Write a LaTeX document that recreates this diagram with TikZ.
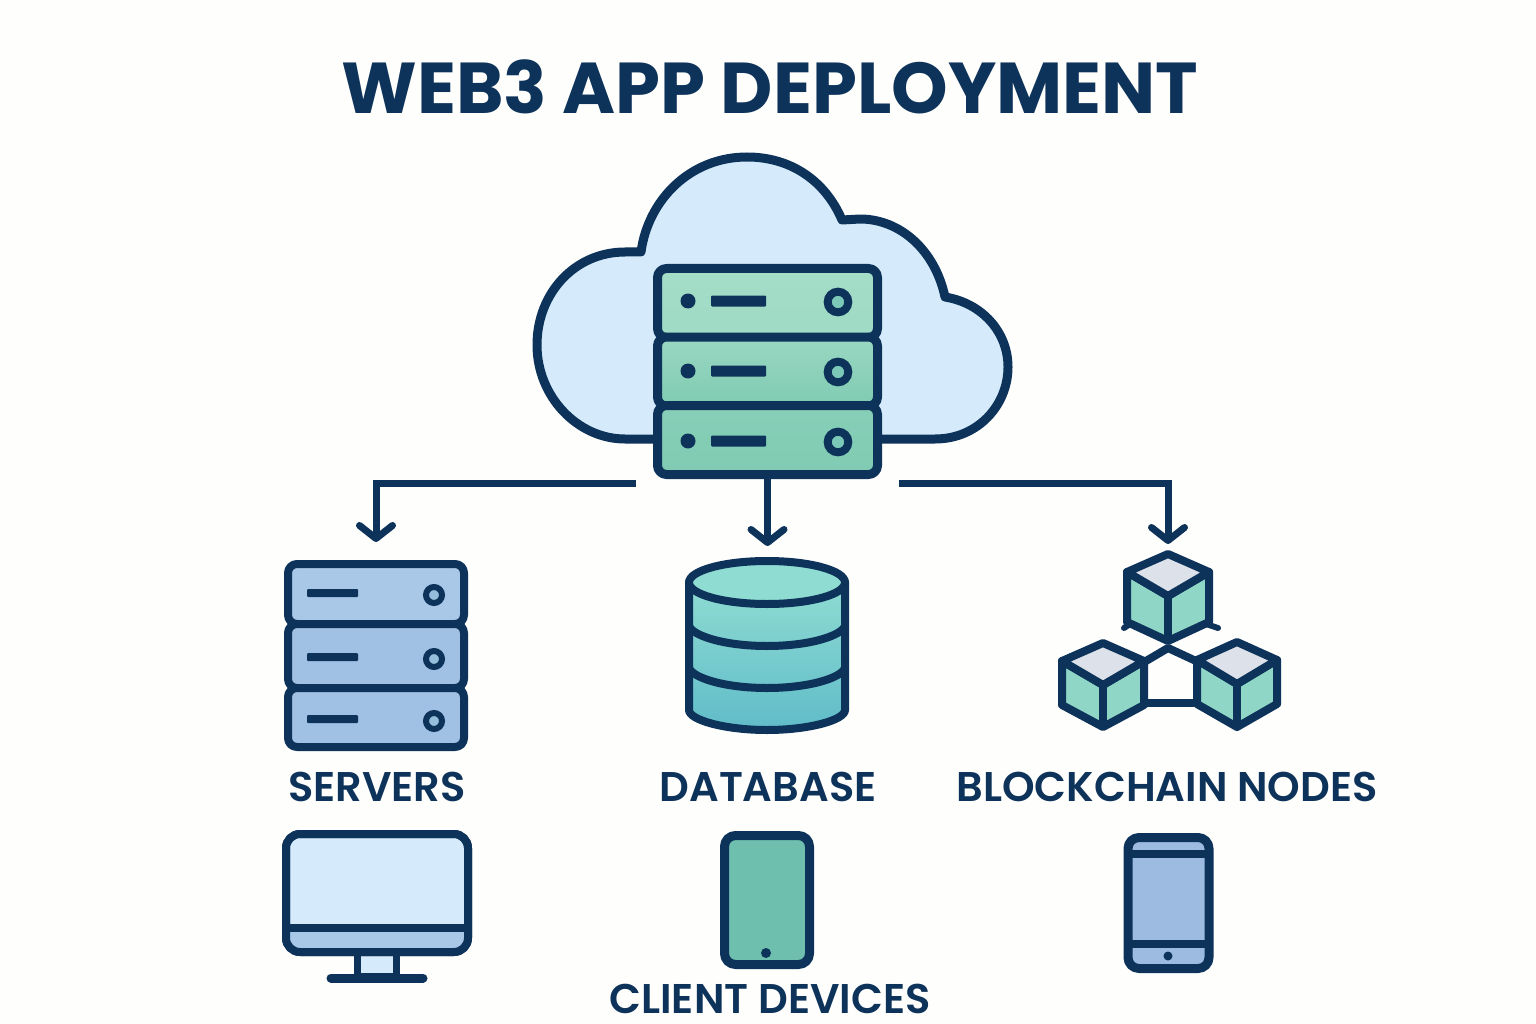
\documentclass[tikz,border=0pt]{standalone}
\usepackage{fontspec}
\setmainfont{Poppins}
\newfontfamily\labelfont{Poppins SemiBold}
\usetikzlibrary{arrows.meta}
\definecolor{inkblue}{HTML}{0E335A}
\definecolor{cloudfill}{HTML}{D5EBFB}
\definecolor{paper}{HTML}{FEFEFD}
\definecolor{hublight}{HTML}{A4DDC8}
\definecolor{hubdark}{HTML}{80CBB3}
\definecolor{ringfill}{HTML}{7CC8B8}
\definecolor{steelone}{HTML}{A9C8E8}
\definecolor{steeltwo}{HTML}{A0C0E4}
\definecolor{steelthree}{HTML}{9DBBE0}
\definecolor{ringblue}{HTML}{94BEDC}
\definecolor{dbtop}{HTML}{8FDCD2}
\definecolor{dbbottom}{HTML}{60BCC9}
\definecolor{tealpad}{HTML}{6FBFAE}
\definecolor{cubetop}{HTML}{DDE1E9}
\definecolor{cubeside}{HTML}{8FD6C6}
\tikzset{
  outline/.style = {draw = inkblue, line width = 8pt, line join = round},
  srvrow/.style = {outline, line width = 9pt, rounded corners = 9pt, minimum width = 220pt, minimum height = 69pt, inner sep = 0pt},
  smallrow/.style = {outline, rounded corners = 9pt, minimum width = 176pt, inner sep = 0pt},
  link/.style = {draw = inkblue, line width = 7pt, -{Straight Barb[length = 13pt, width = 33pt, round]}},
  caption/.style = {text = inkblue, font = \fontsize{41.5}{44}\selectfont\labelfont, inner sep = 0pt},
  padbox/.style = {outline, line width = 9pt, rounded corners = 11pt, inner sep = 0pt}
}
\newcommand{\blockcube}[5]{
\begin{scope}[shift = {(#1,#2)}]
\draw[outline, fill = cubeside] (-#3,-24) -- (0,0) -- (#3,-24) -- (#3,#5) -- (0,#4) -- (-#3,#5) -- cycle;
\draw[outline, fill = cubetop] (0,-42) -- (#3,-24) -- (0,0) -- (-#3,-24) -- cycle;
\draw[outline] (0,0) -- (0,#4);
\end{scope}
}
\begin{document}
\begin{tikzpicture}[x = 1pt, y = -1pt]
\fill[paper] (0,0) rectangle (1536,1024);
\node[text = inkblue, font = \fontsize{72}{80}\selectfont\bfseries, inner sep = 0pt] (title) at (770,87) {WEB3 APP DEPLOYMENT};
\draw[outline, line width = 9pt, fill = cloudfill] (882,439) -- (935,439) .. controls (978,439) and (1008,405) .. (1008,367) .. controls (1008,332) and (982,303) .. (945,297) .. controls (935,250) and (900,219) .. (860,219) -- (842,220) .. controls (825,180) and (790,157) .. (747,157) .. controls (690,157) and (648,200) .. (641,252) -- (625,252) .. controls (575,252) and (537,293) .. (537,345) .. controls (537,397) and (578,439) .. (625,439) -- cycle;
\node[srvrow, top color = hublight, bottom color = hublight!85!hubdark] (hub1) at (767.5,303) {};
\node[srvrow, top color = hublight!70!hubdark, bottom color = hubdark] (hub2) at (767.5,371.5) {};
\node[srvrow, top color = hubdark!80!hublight, bottom color = hubdark] (hub3) at (767.5,440) {};
\foreach \rowy in {301,371,441} {
  \fill[inkblue] (688,\rowy) circle (7.5);
  \fill[inkblue, rounded corners = 1pt] (711,\rowy-5.5) rectangle (766,\rowy+5.5);
  \draw[inkblue, line width = 8pt, fill = ringfill] (838,\rowy+1) circle (10.3);
}
\node[smallrow, fill = steelone, minimum height = 60pt] (srv1) at (376,594) {};
\node[smallrow, fill = steeltwo, minimum height = 64pt] (srv2) at (376,656) {};
\node[smallrow, fill = steeltwo, minimum height = 59pt] (srv3) at (376,717.5) {};
\foreach \rowy in {593,657,719} {
  \fill[inkblue, rounded corners = 1pt] (307,\rowy-4) rectangle (358,\rowy+4);
  \draw[inkblue, line width = 6pt, fill = ringblue] (434,\rowy+2) circle (8);
}
\draw[outline, top color = dbtop, bottom color = dbbottom] (689,582) -- (689,710) .. controls (689,720) and (725,730) .. (767,730) .. controls (809,730) and (845,720) .. (845,710) -- (845,582) -- cycle;
\draw[outline, fill = dbtop] (767,582.5) ellipse [x radius = 78, y radius = 21.5];
\draw[outline] (689,626) .. controls (693,636) and (725,646) .. (767,646) .. controls (809,646) and (841,636) .. (845,626);
\draw[outline] (689,668) .. controls (693,678) and (725,688) .. (767,688) .. controls (809,688) and (841,678) .. (845,668);
\draw[outline] (1146,661) -- (1168,648) -- (1196,661);
\draw[outline] (1146,703) -- (1194,703);
\draw[outline, line width = 6pt, line cap = round] (1130,624) -- (1124,628);
\draw[outline, line width = 6pt, line cap = round] (1206,624) -- (1218,628);
\blockcube{1168}{596}{41}{45}{26}
\blockcube{1103}{685}{41}{42}{20}
\blockcube{1237}{684}{40}{43}{20}
\coordinate (hubleft) at (636,483);
\coordinate (hubright) at (899,483);
\coordinate (cubetip) at (1168,544);
\coordinate (dbtip) at (767.5,546);
\draw[link] (hubleft) -| ([yshift = 18pt]srv1.north);
\draw[link] (hub3.south) -- (dbtip);
\draw[link] (hubright) -| (cubetip);
\node[caption] (servers) at (377,787) {SERVERS};
\node[caption] (database) at (768,787) {DATABASE};
\node[caption] (nodes) at (1167,787) {BLOCKCHAIN NODES};
\node[caption] (clients) at (770,999) {CLIENT DEVICES};
\draw[outline, line width = 7pt, fill = cloudfill] (357,952) rectangle (396,976);
\draw[outline, line width = 9pt, line cap = round] (331,978) -- (423,978);
\node[outline, fill = cloudfill, rounded corners = 14pt, outer sep = 0pt, minimum width = 182pt, minimum height = 118pt, inner sep = 0pt] (screen) at (377,893) {};
\fill[steelone] (286,928) [rounded corners = 14pt] -- (286,952) -- (468,952) [sharp corners] -- (468,928) -- cycle;
\draw[outline, rounded corners = 14pt] (screen.north west) rectangle (screen.south east);
\draw[outline] (screen.west |- 0,928) -- (screen.east |- 0,928);
\node[padbox, fill = tealpad, minimum width = 85pt, minimum height = 129pt] (padone) at (767,900) {};
\fill[inkblue] (766,953) circle (5);
\node[padbox, fill = steelthree, outer sep = 0pt, minimum width = 81pt, minimum height = 131pt] (padtwo) at (1168.5,903) {};
\draw[outline] (padtwo.west |- 0,854) -- (padtwo.east |- 0,854);
\draw[outline] (padtwo.west |- 0,944) -- (padtwo.east |- 0,944);
\fill[inkblue] (1168,956) circle (4.5);
\end{tikzpicture}
\end{document}
